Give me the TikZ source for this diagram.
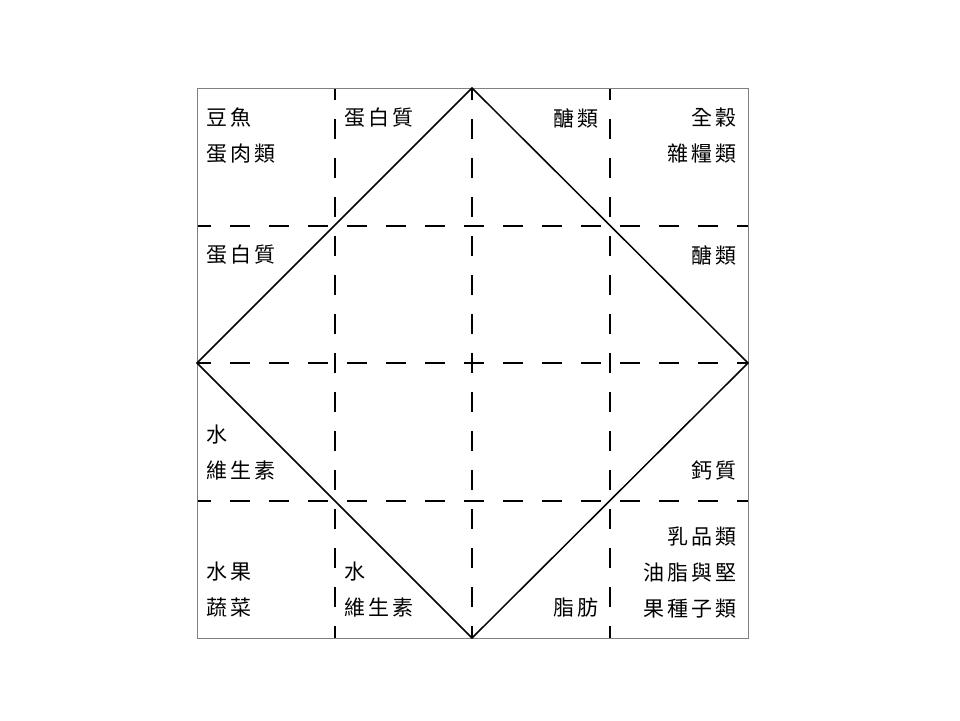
\documentclass[tikz,border=0pt]{standalone}
\usepackage{fontspec}
\newfontfamily\cjk[LetterSpace=14]{Noto Sans CJK TC}
\begin{document}
\begin{tikzpicture}[x=1pt,y=-1pt,
  grid/.style={line width=1.5pt,dash pattern=on 20pt off 19pt},
  edge/.style={line width=1.5pt},
  lbl/.style={font=\cjk\fontsize{21}{36}\selectfont,inner sep=0pt},
  lw/.style={lbl,anchor=west,align=left},
  le/.style={lbl,anchor=east,align=right}]
\useasboundingbox (0,0) rectangle (960,720);
\coordinate (TL) at (197,88);
\coordinate (TR) at (748,88);
\coordinate (BL) at (197,638);
\coordinate (BR) at (748,638);
\coordinate (T) at (472,88);
\coordinate (R) at (748,363);
\coordinate (B) at (472,638);
\coordinate (L) at (197,363);
% dashed grid
\foreach \x/\n in {335/a,472/b,610/c}{
  \coordinate (vt\n) at (\x,88);
  \coordinate (vb\n) at (\x,638);
  \draw[grid,dash phase=8pt] (vt\n) -- (vb\n);
}
\foreach \y/\n in {226/a,363/b,501/c}{
  \coordinate (hl\n) at (197,\y);
  \coordinate (hr\n) at (748,\y);
  \draw[grid,dash phase=6pt] (hl\n) -- (hr\n);
}
% border
\draw[line width=1pt,gray] (TL) -- (TR) -- (BR) -- (BL) -- cycle;
% diamond
\draw[edge,line join=miter] (T) -- (R) -- (B) -- (L) -- cycle;
% labels
\node[lw] (n1) at (206,136) {豆魚\\蛋肉類};
\node[lw] (n2) at (344,118) {蛋白質};
\node[le] (n3) at (599,118) {醣類};
\node[le] (n4) at (737,136) {全穀\\雜糧類};
\node[lw] (n5) at (206,255) {蛋白質};
\node[le] (n6) at (737,255) {醣類};
\node[lw] (n7) at (206,453) {水\\維生素};
\node[le] (n8) at (737,471) {鈣質};
\node[lw] (n9) at (206,590) {水果\\蔬菜};
\node[lw] (n10) at (344,590) {水\\維生素};
\node[le] (n11) at (599,608) {脂肪};
\node[le] (n12) at (737,573) {乳品類\\油脂與堅\\果種子類};
\end{tikzpicture}
\end{document}
